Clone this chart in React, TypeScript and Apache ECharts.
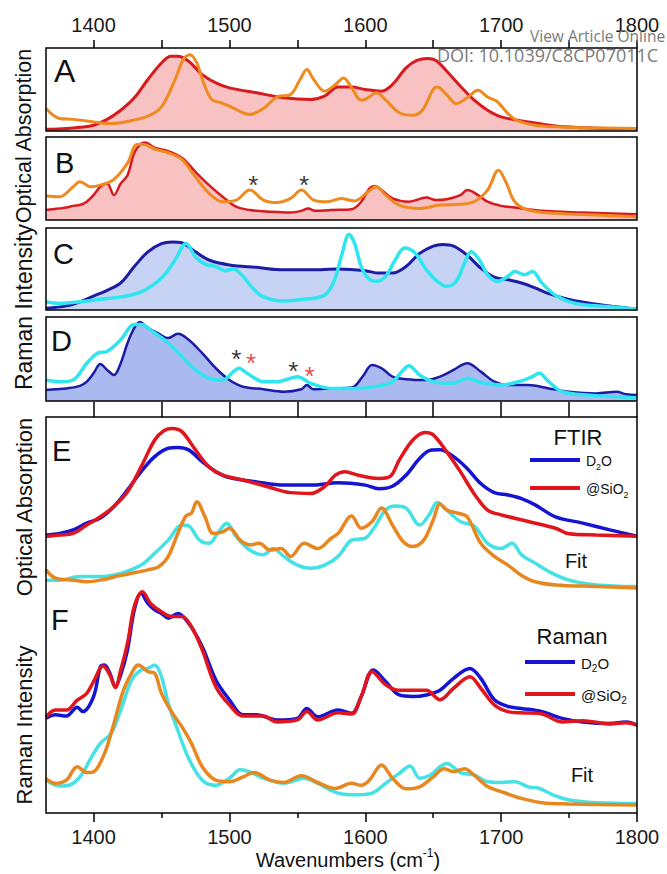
import React, { useEffect, useRef } from "react";
import * as echarts from "echarts";

const FONT = '"Liberation Sans", Arial, sans-serif';

// ---------- axis values ----------
const xMin = 1365;
const xMax = 1800;
const xMajor = [1400, 1500, 1600, 1700, 1800];
const xAllTicks = [1400, 1450, 1500, 1550, 1600, 1650, 1700, 1750, 1800];
const xMinor = [1450, 1550, 1650, 1750];

// ---------- Panel A (optical absorption, normalised 0..1) ----------
const aRed = [[1365,0.02],[1380,0.03],[1390,0.045],[1400,0.07],[1410,0.14],[1420,0.25],[1430,0.40],[1440,0.62],[1450,0.82],[1457,0.90],[1462,0.90],[1470,0.84],[1480,0.68],[1490,0.58],[1500,0.52],[1520,0.46],[1540,0.40],[1560,0.38],[1570,0.42],[1580,0.53],[1590,0.53],[1600,0.50],[1612,0.48],[1620,0.56],[1630,0.76],[1638,0.85],[1646,0.875],[1652,0.85],[1660,0.72],[1670,0.54],[1680,0.375],[1690,0.25],[1700,0.17],[1720,0.11],[1740,0.06],[1760,0.04],[1780,0.03],[1800,0.03]];
const aOrange = [[1365,0.27],[1375,0.15],[1385,0.14],[1400,0.11],[1410,0.09],[1420,0.10],[1440,0.18],[1450,0.29],[1460,0.62],[1466,0.86],[1471,0.92],[1476,0.82],[1481,0.58],[1487,0.38],[1494,0.34],[1500,0.30],[1510,0.22],[1515,0.20],[1525,0.27],[1535,0.41],[1545,0.44],[1552,0.62],[1557,0.74],[1562,0.62],[1570,0.48],[1578,0.56],[1584,0.64],[1590,0.52],[1597,0.37],[1602,0.40],[1608,0.46],[1615,0.375],[1625,0.22],[1635,0.19],[1642,0.25],[1650,0.50],[1653,0.53],[1660,0.435],[1667,0.33],[1675,0.40],[1683,0.49],[1690,0.41],[1697,0.355],[1705,0.21],[1712,0.125],[1725,0.07],[1740,0.05],[1760,0.04],[1800,0.03]];

// ---------- Panel B ----------
const bRed = [[1365,0.12],[1370,0.13],[1375,0.14],[1380,0.15],[1385,0.17],[1390,0.18],[1395,0.22],[1400,0.30],[1405,0.40],[1410,0.44],[1415,0.30],[1420,0.44],[1425,0.54],[1430,0.81],[1435,0.92],[1438,0.935],[1445,0.87],[1455,0.83],[1465,0.75],[1475,0.58],[1485,0.42],[1495,0.28],[1505,0.16],[1515,0.12],[1530,0.10],[1545,0.09],[1553,0.11],[1558,0.14],[1563,0.11],[1575,0.12],[1590,0.13],[1597,0.22],[1603,0.38],[1607,0.41],[1612,0.36],[1620,0.26],[1632,0.22],[1645,0.27],[1652,0.24],[1660,0.25],[1670,0.30],[1675,0.36],[1683,0.30],[1690,0.22],[1700,0.17],[1710,0.15],[1730,0.11],[1760,0.09],[1800,0.07]];
const bOrange = [[1365,0.29],[1375,0.28],[1385,0.40],[1390,0.46],[1398,0.40],[1405,0.42],[1415,0.49],[1425,0.685],[1432,0.91],[1437,0.91],[1445,0.855],[1455,0.81],[1465,0.73],[1475,0.52],[1485,0.32],[1495,0.22],[1505,0.24],[1515,0.36],[1525,0.24],[1535,0.21],[1545,0.26],[1553,0.36],[1562,0.24],[1572,0.22],[1582,0.26],[1592,0.23],[1602,0.34],[1608,0.40],[1615,0.30],[1625,0.18],[1640,0.14],[1655,0.18],[1670,0.19],[1680,0.22],[1690,0.36],[1698,0.60],[1704,0.44],[1710,0.22],[1720,0.12],[1740,0.08],[1770,0.06],[1800,0.04]];
const bStars = [[1517.5, 0.49], [1555, 0.49]];

// ---------- Panel C (Raman) ----------
const cBlue = [[1365,0.02],[1380,0.05],[1390,0.10],[1400,0.17],[1410,0.24],[1420,0.33],[1430,0.53],[1440,0.71],[1450,0.81],[1458,0.83],[1465,0.82],[1475,0.71],[1485,0.61],[1500,0.55],[1520,0.52],[1540,0.49],[1560,0.49],[1580,0.50],[1600,0.48],[1610,0.45],[1620,0.45],[1630,0.53],[1640,0.69],[1650,0.78],[1657,0.80],[1665,0.78],[1675,0.67],[1685,0.51],[1695,0.40],[1705,0.37],[1715,0.33],[1725,0.27],[1735,0.20],[1750,0.13],[1770,0.07],[1785,0.04],[1800,0.01]];
const cCyan = [[1365,0.10],[1375,0.08],[1390,0.10],[1405,0.13],[1420,0.16],[1435,0.22],[1450,0.39],[1460,0.61],[1468,0.81],[1475,0.65],[1482,0.56],[1490,0.53],[1497,0.48],[1503,0.50],[1510,0.41],[1517,0.27],[1525,0.16],[1540,0.11],[1555,0.13],[1570,0.18],[1577,0.35],[1583,0.69],[1588,0.92],[1592,0.82],[1597,0.53],[1602,0.39],[1608,0.35],[1615,0.41],[1622,0.61],[1629,0.755],[1637,0.69],[1645,0.49],[1653,0.35],[1660,0.29],[1667,0.35],[1673,0.57],[1678,0.71],[1684,0.61],[1690,0.43],[1697,0.35],[1705,0.41],[1710,0.47],[1717,0.43],[1723,0.47],[1730,0.33],[1740,0.18],[1755,0.08],[1780,0.04],[1800,0.01]];

// ---------- Panel D ----------
const dBlue = [[1365,0.13],[1372,0.14],[1380,0.15],[1390,0.18],[1395,0.23],[1400,0.33],[1405,0.44],[1410,0.37],[1415,0.31],[1420,0.45],[1425,0.69],[1430,0.87],[1434,0.94],[1440,0.87],[1447,0.81],[1455,0.75],[1462,0.80],[1470,0.73],[1480,0.57],[1490,0.39],[1500,0.25],[1510,0.17],[1525,0.14],[1540,0.11],[1553,0.14],[1557,0.19],[1562,0.14],[1575,0.15],[1590,0.16],[1598,0.29],[1605,0.43],[1612,0.39],[1620,0.29],[1630,0.26],[1645,0.25],[1655,0.29],[1665,0.37],[1675,0.45],[1685,0.35],[1695,0.23],[1705,0.19],[1720,0.19],[1735,0.15],[1750,0.11],[1770,0.09],[1785,0.11],[1792,0.08],[1800,0.07]];
const dCyan = [[1365,0.25],[1375,0.23],[1385,0.25],[1395,0.45],[1403,0.57],[1410,0.59],[1420,0.73],[1430,0.91],[1435,0.91],[1445,0.81],[1455,0.69],[1465,0.53],[1475,0.37],[1485,0.27],[1495,0.25],[1503,0.35],[1507,0.39],[1513,0.33],[1525,0.23],[1535,0.23],[1545,0.27],[1550,0.29],[1560,0.21],[1575,0.15],[1595,0.15],[1610,0.18],[1620,0.23],[1628,0.37],[1632,0.42],[1640,0.31],[1650,0.23],[1665,0.21],[1675,0.27],[1685,0.22],[1700,0.19],[1715,0.24],[1723,0.29],[1728,0.33],[1735,0.23],[1745,0.11],[1765,0.07],[1800,0.04]];
const dStarsBlack = [[1505, 0.57], [1547, 0.43]];
const dStarsRed = [[1516, 0.52], [1559, 0.37]];

// ---------- Panel E (FTIR, offset units 0..100) ----------
const eD2O = [[1365,70.2],[1375,70.6],[1385,71.5],[1395,73.2],[1405,74.5],[1415,77.4],[1425,81.6],[1435,86.2],[1445,90.0],[1455,92.1],[1462,92.3],[1470,91.7],[1480,88.7],[1490,86.2],[1500,84.7],[1520,83.6],[1540,82.8],[1560,82.8],[1580,83.4],[1600,82.8],[1610,81.9],[1620,82.5],[1630,85.3],[1640,89.5],[1648,91.6],[1655,91.7],[1665,90.0],[1675,87.0],[1685,83.2],[1695,80.9],[1705,80.3],[1715,79.4],[1725,77.8],[1740,74.8],[1760,73.2],[1780,71.5],[1800,69.9]];
const eSiO2 = [[1365,69.8],[1375,70.2],[1385,70.6],[1395,72.7],[1405,74.8],[1415,77.4],[1425,81.1],[1435,87.4],[1445,94.2],[1452,96.6],[1458,97.1],[1465,96.3],[1475,91.7],[1485,87.4],[1495,85.3],[1510,84.1],[1530,82.2],[1545,80.9],[1560,80.7],[1570,82.4],[1578,85.3],[1585,86.2],[1595,85.3],[1610,84.5],[1618,84.9],[1625,89.1],[1635,94.2],[1644,96.1],[1650,95.5],[1660,91.2],[1670,86.2],[1680,80.7],[1690,76.5],[1700,75.3],[1720,73.6],[1740,71.9],[1750,70.5],[1770,70.2],[1800,69.9]];
const eFitCyan = [[1365,58.8],[1375,58.8],[1390,59.7],[1405,59.7],[1420,60.5],[1435,62.6],[1445,65.6],[1455,68.9],[1465,72.7],[1470,72.5],[1478,68.9],[1485,68.1],[1492,71.0],[1498,73.2],[1505,69.8],[1515,66.4],[1525,65.2],[1532,66.8],[1540,64.8],[1550,62.6],[1560,61.8],[1570,62.6],[1580,64.8],[1590,68.9],[1600,69.4],[1607,72.3],[1615,76.5],[1622,77.5],[1630,77.0],[1640,72.7],[1647,75.3],[1653,78.4],[1660,76.5],[1670,73.6],[1680,72.5],[1690,68.1],[1700,66.8],[1708,68.1],[1715,65.2],[1725,63.1],[1735,61.0],[1750,58.8],[1770,57.6],[1800,57.2]];
const eFitOrange = [[1365,61.4],[1372,59.3],[1385,58.8],[1395,58.4],[1405,58.8],[1420,60.0],[1440,61.4],[1448,62.2],[1455,64.8],[1462,70.6],[1468,75.0],[1472,75.7],[1476,78.6],[1482,74.8],[1488,70.6],[1495,71.0],[1500,71.9],[1508,68.9],[1515,67.7],[1522,68.1],[1530,66.4],[1538,66.8],[1545,64.8],[1555,68.1],[1565,66.8],[1575,69.4],[1580,70.6],[1590,75.0],[1597,71.9],[1605,73.6],[1612,77.0],[1620,72.7],[1628,68.5],[1635,67.3],[1643,68.9],[1650,74.0],[1655,78.0],[1660,76.5],[1668,75.7],[1675,74.8],[1685,68.1],[1695,64.8],[1705,62.6],[1715,60.0],[1725,58.4],[1740,57.6],[1770,57.2],[1800,56.8]];

// ---------- Panel F (Raman, same offset units) ----------
const fD2O = [[1365,23.9],[1372,24.8],[1380,24.5],[1388,26.7],[1392,25.6],[1400,29.4],[1405,36.9],[1408,37.4],[1412,35.3],[1416,31.9],[1420,34.9],[1425,41.2],[1430,51.3],[1435,55.5],[1440,52.9],[1445,51.3],[1450,50.4],[1455,49.2],[1462,50.4],[1470,47.9],[1480,42.0],[1490,33.6],[1500,28.6],[1510,24.8],[1520,24.8],[1535,23.5],[1550,23.9],[1557,26.4],[1565,24.3],[1580,26.0],[1590,25.2],[1597,29.4],[1606,36.1],[1615,33.2],[1625,29.8],[1635,29.4],[1645,29.8],[1655,31.0],[1665,34.0],[1677,36.5],[1685,34.0],[1695,28.6],[1705,26.9],[1715,26.4],[1730,25.6],[1745,23.9],[1760,23.0],[1780,22.6],[1792,23.0],[1800,22.2]];
const fSiO2 = [[1365,24.3],[1372,26.0],[1380,26.0],[1388,28.5],[1395,30.2],[1400,33.2],[1407,37.1],[1412,34.9],[1416,31.7],[1420,36.1],[1425,42.9],[1430,52.2],[1436,55.9],[1442,52.9],[1450,50.8],[1458,49.6],[1465,49.6],[1472,47.1],[1480,41.2],[1490,31.9],[1500,27.3],[1510,24.5],[1525,24.5],[1535,23.0],[1550,23.5],[1557,25.6],[1565,23.5],[1580,25.3],[1590,25.0],[1597,29.4],[1605,35.7],[1615,32.4],[1625,31.0],[1635,31.0],[1645,31.0],[1655,28.6],[1665,31.5],[1677,34.4],[1685,31.5],[1695,27.3],[1705,25.6],[1715,25.3],[1730,25.0],[1745,23.0],[1760,23.3],[1780,22.5],[1792,22.8],[1800,22.2]];
const fFitCyan = [[1365,8.3],[1375,6.8],[1382,7.0],[1390,9.1],[1398,13.8],[1405,17.6],[1413,20.1],[1420,26.0],[1428,33.6],[1435,36.1],[1440,36.5],[1445,37.4],[1450,34.4],[1455,27.7],[1462,20.9],[1470,13.8],[1480,8.3],[1490,7.0],[1500,8.8],[1508,10.9],[1515,10.4],[1525,8.8],[1540,7.5],[1555,8.8],[1565,7.5],[1580,5.0],[1595,4.6],[1605,5.0],[1615,7.5],[1625,10.0],[1633,11.9],[1640,8.8],[1648,9.6],[1655,11.7],[1660,12.5],[1670,10.2],[1680,9.6],[1690,7.9],[1700,7.7],[1710,7.9],[1720,6.6],[1728,6.2],[1738,4.6],[1750,3.3],[1770,2.6],[1800,2.4]];
const fFitOrange = [[1365,8.7],[1372,7.5],[1380,8.3],[1388,11.7],[1395,10.2],[1400,10.4],[1408,15.0],[1415,22.6],[1422,31.0],[1430,36.5],[1433,37.4],[1440,35.7],[1445,35.3],[1450,30.2],[1458,25.2],[1465,21.8],[1472,17.6],[1480,11.7],[1490,8.3],[1500,7.9],[1510,9.1],[1518,10.2],[1530,8.3],[1540,7.7],[1553,9.4],[1565,7.7],[1578,6.2],[1590,7.5],[1597,7.0],[1603,8.3],[1612,12.1],[1620,8.8],[1630,6.1],[1640,6.6],[1650,9.1],[1658,11.2],[1665,10.4],[1673,11.2],[1680,9.6],[1690,6.7],[1700,5.4],[1715,3.7],[1730,2.6],[1750,2.3],[1800,2.0]];

// ---------- colours ----------
const RED = "#d8191e";
const ORANGE = "#ee8a1e";
const PINK = "#f9c2c2";
const NAVY = "#1c1ca6";
const CYAN = "#2ee6f0";
const FILL_C = "#c6d3f5";
const FILL_D = "#aab9ef";
const BLUE_E = "#1414d2";
const RED_E = "#e0161c";
const CYAN_E = "#44e2e4";
const ORANGE_E = "#e8871f";

// ---------- layout ----------
const PL = 46;
const PW = 591;
const panels = [
  { top: 48, height: 83 },
  { top: 137, height: 83 },
  { top: 228, height: 82 },
  { top: 317, height: 84 },
  { top: 417, height: 396 },
];

export default function App() {
  const ref = useRef<HTMLDivElement>(null);

  useEffect(() => {
    if (!ref.current) return;
    const chart = echarts.init(ref.current, null, { renderer: "svg", width: 667, height: 874 });

    const labelStyle = { fontSize: 20, color: "#1a1a1a", fontFamily: FONT, formatter: (v: number) => String(v) };
    const noLine = { show: false, onZero: false };
    const tickStyle = { color: "#000", width: 1.5 };

    const hiddenX = (gi: number) => ({
      gridIndex: gi, type: "value", min: xMin, max: xMax, show: false,
      axisLine: noLine, axisTick: { show: false }, axisLabel: { show: false },
    });

    const xAxes: any[] = [
      {
        gridIndex: 0, type: "value", position: "top", min: xMin, max: xMax,
        axisLine: noLine,
        axisTick: { show: true, inside: false, length: 8, customValues: xAllTicks, lineStyle: tickStyle },
        axisLabel: { show: true, customValues: xMajor, margin: 13, ...labelStyle },
        splitLine: { show: false },
      },
      hiddenX(1),
      hiddenX(2),
      hiddenX(3),
      {
        gridIndex: 4, type: "value", position: "top", min: xMin, max: xMax,
        axisLine: noLine,
        axisTick: { show: true, inside: false, length: 15, customValues: xAllTicks, lineStyle: tickStyle },
        axisLabel: { show: false },
        splitLine: { show: false },
      },
      {
        gridIndex: 4, type: "value", position: "bottom", min: xMin, max: xMax,
        axisLine: noLine,
        axisTick: { show: true, inside: false, length: 9, customValues: xMajor, lineStyle: tickStyle },
        axisLabel: { show: true, customValues: xMajor, margin: 14, ...labelStyle },
        splitLine: { show: false },
      },
      {
        gridIndex: 4, type: "value", position: "bottom", min: xMin, max: xMax,
        axisLine: noLine,
        axisTick: { show: true, inside: false, length: 5, customValues: xMinor, lineStyle: tickStyle },
        axisLabel: { show: false },
        splitLine: { show: false },
      },
    ];

    const yAxes: any[] = panels.map((_, i) => ({
      gridIndex: i, type: "value", min: 0, max: i === 4 ? 100 : 1, show: false,
      axisLine: noLine,
    }));

    const line = (data: number[][], xi: number, yi: number, color: string, width: number, z: number, area?: string) => ({
      type: "line", data, xAxisIndex: xi, yAxisIndex: yi, smooth: 0.35, symbol: "none",
      lineStyle: { color, width }, z,
      areaStyle: area ? { color: area, opacity: 1, origin: "start" } : undefined,
      silent: true,
    });

    const stars = (data: number[][], xi: number, yi: number, color: string) => ({
      type: "scatter", data, xAxisIndex: xi, yAxisIndex: yi, symbolSize: 1,
      itemStyle: { color: "rgba(0,0,0,0)" }, z: 20, silent: true,
      label: { show: true, position: "inside", formatter: "*", color, fontSize: 26, fontFamily: FONT, offset: [0, 6] },
    });

    const series: any[] = [
      line(aRed, 0, 0, RED, 3, 2, PINK),
      line(aOrange, 0, 0, ORANGE, 3, 3),
      line(bRed, 1, 1, RED, 2.5, 2, PINK),
      line(bOrange, 1, 1, ORANGE, 3, 3),
      stars(bStars, 1, 1, "#000"),
      line(cBlue, 2, 2, NAVY, 3, 2, FILL_C),
      line(cCyan, 2, 2, CYAN, 3.5, 3),
      line(dBlue, 3, 3, NAVY, 2.5, 2, FILL_D),
      line(dCyan, 3, 3, CYAN, 3.5, 3),
      stars(dStarsBlack, 3, 3, "#000"),
      stars(dStarsRed, 3, 3, "#e0161c"),
      line(eD2O, 5, 4, BLUE_E, 3.5, 2),
      line(eSiO2, 5, 4, RED_E, 3.5, 3),
      line(eFitCyan, 5, 4, CYAN_E, 3.5, 2),
      line(eFitOrange, 5, 4, ORANGE_E, 3.5, 3),
      line(fD2O, 5, 4, BLUE_E, 3.5, 2),
      line(fSiO2, 5, 4, RED_E, 3.5, 3),
      line(fFitCyan, 5, 4, CYAN_E, 3.5, 2),
      line(fFitOrange, 5, 4, ORANGE_E, 3.5, 3),
    ];

    const txt = (text: string, x: number, y: number, fontSize: number, extra: any = {}) => ({
      type: "text", x, y, z: 60, silent: true,
      style: { text, fill: "#111", fontSize, fontFamily: FONT, textAlign: "left", textVerticalAlign: "middle", ...extra },
    });
    const vtxt = (text: string, x: number, y: number, fontSize: number) => ({
      type: "text", x, y, rotation: Math.PI / 2, z: 60, silent: true,
      style: { text, fill: "#111", fontSize, fontFamily: FONT, textAlign: "center", textVerticalAlign: "middle" },
    });
    const legLine = (x1: number, x2: number, y: number, color: string) => ({
      type: "line", z: 60, silent: true, shape: { x1, y1: y, x2, y2: y }, style: { stroke: color, lineWidth: 4 },
    });
    const subRich = (fs: number, sfs: number) => ({
      n: { fontSize: fs, fontFamily: FONT, fill: "#111", lineHeight: fs + 6, verticalAlign: "middle" },
      s: { fontSize: sfs, fontFamily: FONT, fill: "#111", lineHeight: sfs, verticalAlign: "bottom" },
    });

    const graphic: any[] = [
      ...panels.map((p) => ({
        type: "rect", z: 50, silent: true,
        shape: { x: PL, y: p.top, width: PW, height: p.height },
        style: { fill: "none", stroke: "#000", lineWidth: 1.5 },
      })),
      txt("A", 54, 71, 32),
      txt("B", 55, 163, 29),
      txt("C", 53, 254, 29),
      txt("D", 51, 341, 29),
      txt("E", 52, 451, 29),
      txt("F", 51, 620, 29),
      vtxt("Optical Absorption", 24, 136, 21.5),
      vtxt("Raman Intensity", 24, 307, 23),
      vtxt("Optical Absorption", 24, 507, 22),
      vtxt("Raman Intensity", 24, 725, 22),
      txt("FTIR", 578, 437, 22, { textAlign: "center" }),
      legLine(530, 580, 460, BLUE_E),
      txt("{n|D}{s|2}{n|O}", 586, 461, 14, { rich: subRich(14, 9) }),
      legLine(530, 580, 488, RED_E),
      txt("{n|@SiO}{s|2}", 586, 489, 14, { rich: subRich(14, 9) }),
      txt("Fit", 576, 561, 20, { textAlign: "center" }),
      txt("Raman", 572, 636, 22, { textAlign: "center" }),
      legLine(525, 575, 662, BLUE_E),
      txt("{n|D}{s|2}{n|O}", 581, 663, 15, { rich: subRich(15, 10) }),
      legLine(525, 575, 694, RED_E),
      txt("{n|@SiO}{s|2}", 581, 695, 15, { rich: subRich(15, 10) }),
      txt("Fit", 582, 775, 20, { textAlign: "center" }),
      txt("{a|Wavenumbers (cm}{s|-1}{a|)}", 348, 860, 20, {
        textAlign: "center",
        rich: {
          a: { fontSize: 20, fontFamily: FONT, fill: "#111", lineHeight: 26, verticalAlign: "middle" },
          s: { fontSize: 12, fontFamily: FONT, fill: "#111", lineHeight: 12, verticalAlign: "top" },
        },
      }),
      {
        type: "text", x: 530, y: 36, z: 70, silent: true,
        style: { text: "View Article Online", fill: "#7a7a7a", fontSize: 15.5, fontFamily: '"Open Sans", sans-serif', textAlign: "left", textVerticalAlign: "middle" },
      },
      {
        type: "text", x: 437, y: 55, z: 70, silent: true,
        style: { text: "DOI: 10.1039/C8CP07011C", fill: "#7a7a7a", fontSize: 18, fontFamily: '"Open Sans", sans-serif', textAlign: "left", textVerticalAlign: "middle" },
      },
    ];

    chart.setOption({
      animation: false,
      backgroundColor: "#fff",
      grid: panels.map((p) => ({ left: PL, top: p.top, width: PW, height: p.height, containLabel: false })),
      xAxis: xAxes,
      yAxis: yAxes,
      series,
      graphic,
    });

    return () => chart.dispose();
  }, []);

  return <div ref={ref} style={{ position: "fixed", left: 0, top: 0, width: 667, height: 874 }} />;
}
